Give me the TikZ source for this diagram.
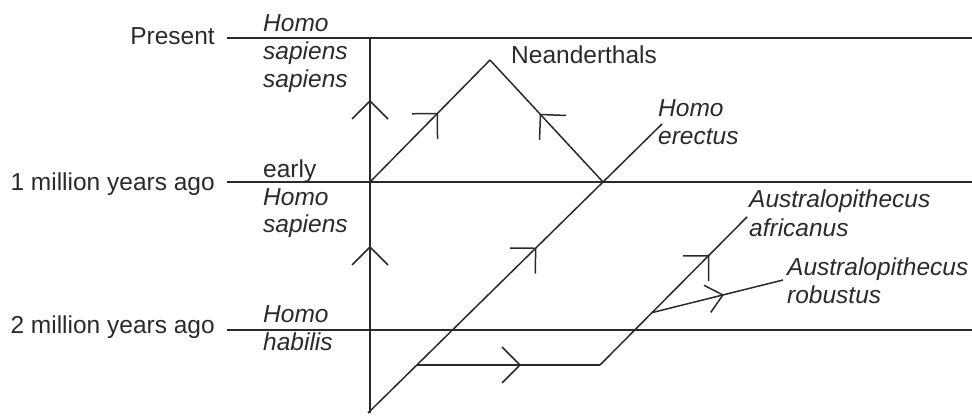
\documentclass[tikz,border=0pt]{standalone}
\usepackage{fontspec}
\setmainfont{Liberation Sans}
\usetikzlibrary{decorations.markings,calc}
\definecolor{ink}{HTML}{2A2A2A}
\newcommand\chevmark{\draw[ink, line width=1.5pt, line join=miter] (-18pt,18pt) -- (0pt,0pt) -- (-18pt,-18pt);}
\newcommand\chevsmall{\draw[ink, line width=1.5pt, line join=miter] (-16pt,14pt) -- (0pt,0pt) -- (-16pt,-14pt);}
\begin{document}
\begin{tikzpicture}[x=1pt,y=-1pt,
  line/.style={draw=ink, line width=1.5pt},
  lab/.style={text=ink, font=\fontsize{24.5}{28}\selectfont, inner sep=0pt},
  itlab/.style={text=ink, font=\fontsize{24.5}{28}\selectfont\itshape, inner sep=0pt, anchor=base west},
  arrowat/.style={postaction={decorate, decoration={markings, mark=at position #1 with {\chevmark}}}},
  smallarrowat/.style={postaction={decorate, decoration={markings, mark=at position #1 with {\chevsmall}}}}
]
\useasboundingbox (0,0) rectangle (972,417);

% time lines
\coordinate (p0) at (227,38);  \coordinate (p1) at (972,38);
\coordinate (m0) at (227,182); \coordinate (m1) at (972,182);
\coordinate (t0) at (227,330); \coordinate (t1) at (972,330);
\draw[line] (p0) -- (p1);
\draw[line] (m0) -- (m1);
\draw[line] (t0) -- (t1);

\node[lab, anchor=base east] (present) at (215,45) {Present};
\node[lab, anchor=base east] (onemya) at (215,190) {1 million years ago};
\node[lab, anchor=base east] (twomya) at (215,333) {2 million years ago};

% vertical (Homo) line
\coordinate (vb) at (370,413);
\coordinate (vt) at (370,38);
\draw[line, arrowat=166pt, arrowat=312pt] (vb) -- (vt);

% Neanderthals
\coordinate (n0) at (370,182);
\coordinate (npk) at (490,60);
\coordinate (n1) at (603,182);
\draw[line, arrowat=96pt] (n0) -- (npk);
\draw[line, arrowat=92pt] (n1) -- (npk);

% Homo erectus
\coordinate (e0) at (368,413);
\coordinate (e1) at (662,124);
\draw[line, arrowat=235pt] (e0) -- (e1);

% horizontal to Australopithecus
\coordinate (h0) at (417,365);
\coordinate (h1) at (600,365);
\draw[line, arrowat=103pt] (h0) -- (h1);

% Australopithecus africanus
\coordinate (a1) at (747,217);
\draw[line, arrowat=154pt] (h1) -- (a1);

% Australopithecus robustus
\coordinate (r0) at ($(h1)!0.354!(a1)$);
\coordinate (r1) at (783,280);
\draw[line, smallarrowat=73pt] (r0) -- (r1);

% labels
\node[itlab] (hss1) at (263,32) {Homo};
\node[itlab] (hss2) at (263,60) {sapiens};
\node[itlab] (hss3) at (263,88) {sapiens};

\node[lab, anchor=base west] (ehs1) at (263,177) {early};
\node[itlab] (ehs2) at (263,205) {Homo};
\node[itlab] (ehs3) at (263,232) {sapiens};

\node[itlab] (hh1) at (263,322) {Homo};
\node[itlab] (hh2) at (263,350) {habilis};

\node[lab, anchor=base west] (nea) at (511,64) {Neanderthals};

\node[itlab] (he1) at (658,117) {Homo};
\node[itlab] (he2) at (658,145) {erectus};

\node[itlab] (aa1) at (749,207) {Australopithecus};
\node[itlab] (aa2) at (749,236) {africanus};

\node[itlab] (ar1) at (787,275) {Australopithecus};
\node[itlab] (ar2) at (787,303) {robustus};
\end{tikzpicture}
\end{document}
